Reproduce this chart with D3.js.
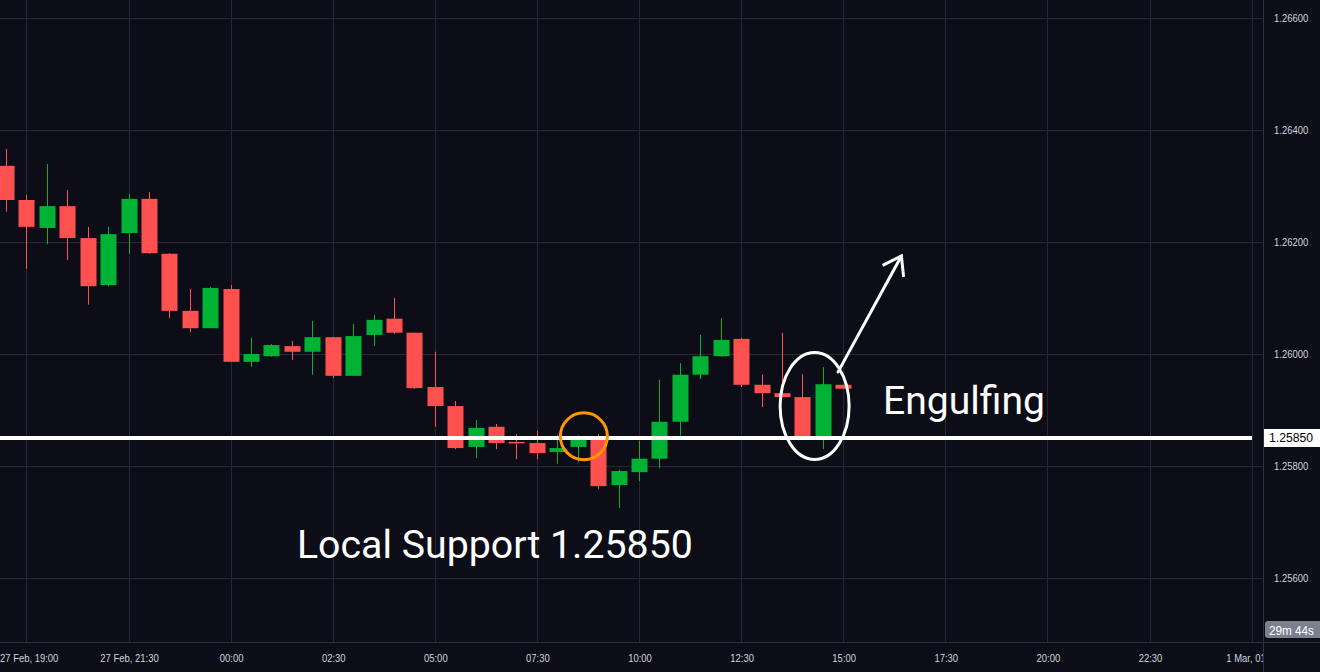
<!DOCTYPE html>
<html>
<head>
<meta charset="utf-8">
<script src="https://cdn.jsdelivr.net/npm/d3@7"></script>
<style>
  html, body { margin: 0; padding: 0; background: #0c0d17; overflow: hidden; }
  svg { display: block; }
</style>
</head>
<body>
<svg id="chart" width="1320" height="672"></svg>
<script>
// ---- Data (30-minute candles) ----
const startTime = "2023-02-27T18:30:00";
const opens  = [1.26336,1.26275,1.26225,1.26264,1.26207,1.26123,1.26216,1.26277,1.26179,1.26077,
                1.26046,1.26116,1.25986,1.25996,1.26014,1.26004,1.26030,1.25961,1.26034,1.26063,
                1.26038,1.25941,1.25907,1.25834,1.25870,1.25843,1.25841,1.25825,1.25834,1.25852,
                1.25766,1.25789,1.25813,1.25879,1.25963,1.25996,1.26027,1.25945,1.25930,1.25923,
                1.25852,1.25945];
const highs  = [1.26366,1.26284,1.26339,1.26293,1.26227,1.26227,1.26286,1.26289,1.26180,1.26116,
                1.26120,1.26123,1.26029,1.26018,1.26023,1.26059,1.26030,1.26054,1.26070,1.26100,
                1.26038,1.26004,1.25916,1.25882,1.25875,1.25857,1.25863,1.25855,1.25855,1.25857,
                1.25793,1.25845,1.25954,1.25984,1.26034,1.26064,1.26029,1.25963,1.26038,1.25964,
                1.25977,1.25945];
const lows   = [1.26254,1.26152,1.26196,1.26168,1.26088,1.26121,1.26179,1.26179,1.26064,1.26039,
                1.26046,1.25986,1.25977,1.25995,1.25989,1.25963,1.25957,1.25961,1.26014,1.26036,
                1.25938,1.25870,1.25830,1.25814,1.25830,1.25812,1.25812,1.25804,1.25807,1.25759,
                1.25725,1.25773,1.25796,1.25854,1.25955,1.25995,1.25941,1.25905,1.25922,1.25848,
                1.25830,1.25938];
const closes = [1.26275,1.26227,1.26264,1.26207,1.26121,1.26214,1.26277,1.26180,1.26077,1.26046,
                1.26118,1.25986,1.26000,1.26016,1.26004,1.26030,1.25961,1.26032,1.26061,1.26038,
                1.25939,1.25907,1.25832,1.25868,1.25841,1.25841,1.25823,1.25832,1.25850,1.25764,
                1.25791,1.25813,1.25879,1.25963,1.25996,1.26025,1.25945,1.25930,1.25923,1.25852,
                1.25946,1.25938];

const priceTicks = [1.256, 1.258, 1.260, 1.262, 1.264, 1.266];
const timeTickTimes  = ["2023-02-27T19:00","2023-02-27T21:30","2023-02-28T00:00","2023-02-28T02:30",
                        "2023-02-28T05:00","2023-02-28T07:30","2023-02-28T10:00","2023-02-28T12:30",
                        "2023-02-28T15:00","2023-02-28T17:30","2023-02-28T20:00","2023-02-28T22:30",
                        "2023-03-01T01:00"];
const timeTickLabels = ["27 Feb, 19:00","27 Feb, 21:30","00:00","02:30","05:00","07:30","10:00",
                        "12:30","15:00","17:30","20:00","22:30","1 Mar, 01:00"];

const supportLevel = 1.25850;
const supportLabel = "1.25850";
const countdownLabel = "29m 44s";
const supportText = "Local Support 1.25850";
const engulfText = "Engulfing";

// Annotation anchors in (candle index, price)
const orangeCircle = { idx: 28.3, price: 1.25853 };
const engulfEllipse = { idx: 39.6, price: 1.25907 };
const arrowFrom = { idx: 40.75, price: 1.25968 };
const arrowTo   = { idx: 43.85, price: 1.26175 };
const engulfPos = { idx: 42.95, price: 1.25892 };
const supportPos = { idx: 14.25, price: 1.25636 };

// ---- Layout ----
const W = 1320, H = 672;
const plotRight = 1263.5, plotBottom = 642.5;
const bg = "#0c0d17", grid = "#262836", border = "#2e3140", textCol = "#d1d4dc";
const upCol = "#00b334", downCol = "#ff5050";
const axisFont = "'Liberation Sans', Arial, sans-serif";
const narrow = 0.86;

const MS = 30 * 60 * 1000;
const t0 = new Date(startTime);
const tAt = i => new Date(t0.getTime() + i * MS);

const x = d3.scaleTime().domain([tAt(0), tAt(61)]).range([6, 1251.6]);
const y = d3.scaleLinear().domain([1.254857, 1.266321]).range([642, 0]);

const candles = opens.map((o, i) => ({ t: tAt(i), o, h: highs[i], l: lows[i], c: closes[i] }));

const svg = d3.select("#chart");
svg.append("rect").attr("width", W).attr("height", H).attr("fill", bg);

const defs = svg.append("defs");
defs.append("clipPath").attr("id", "plotClip")
  .append("rect").attr("x", 0).attr("y", 0).attr("width", plotRight).attr("height", plotBottom);
defs.append("clipPath").attr("id", "timeClip")
  .append("rect").attr("x", 0).attr("y", plotBottom).attr("width", plotRight - 0.5).attr("height", H - plotBottom);

function condense(sel) {
  sel.each(function () {
    const w = this.getComputedTextLength();
    d3.select(this).attr("textLength", w * narrow).attr("lengthAdjust", "spacingAndGlyphs");
  });
}

// Grid
const gridG = svg.append("g").attr("clip-path", "url(#plotClip)");
gridG.selectAll("line.h").data(priceTicks).join("line")
  .attr("x1", 0).attr("x2", plotRight)
  .attr("y1", d => Math.round(y(d)) + 0.5).attr("y2", d => Math.round(y(d)) + 0.5)
  .attr("stroke", grid).attr("stroke-width", 1);
gridG.selectAll("line.v").data(timeTickTimes).join("line")
  .attr("x1", d => Math.round(x(new Date(d))) + 0.5).attr("x2", d => Math.round(x(new Date(d))) + 0.5)
  .attr("y1", 0).attr("y2", plotBottom)
  .attr("stroke", grid).attr("stroke-width", 1);

// Candles
const bw = 16;
const cG = svg.append("g").attr("clip-path", "url(#plotClip)");
const cg = cG.selectAll("g.c").data(candles).join("g");
cg.append("line")
  .attr("x1", d => Math.round(x(d.t)) + 0.5).attr("x2", d => Math.round(x(d.t)) + 0.5)
  .attr("y1", d => y(d.h)).attr("y2", d => y(d.l))
  .attr("stroke", d => d.c >= d.o ? upCol : downCol).attr("stroke-width", 1);
cg.append("rect")
  .attr("x", d => Math.round(x(d.t)) + 0.5 - bw / 2)
  .attr("width", bw)
  .attr("y", d => y(Math.max(d.o, d.c)))
  .attr("height", d => Math.max(1.5, Math.abs(y(d.o) - y(d.c))))
  .attr("fill", d => d.c >= d.o ? upCol : downCol);

// Support line
svg.append("line")
  .attr("x1", 0).attr("x2", 1252)
  .attr("y1", y(supportLevel)).attr("y2", y(supportLevel))
  .attr("stroke", "#ffffff").attr("stroke-width", 4);

// Annotations
const ix = i => x(tAt(i));
svg.append("circle")
  .attr("cx", ix(orangeCircle.idx)).attr("cy", y(orangeCircle.price)).attr("r", 23.5)
  .attr("fill", "none").attr("stroke", "#ff9800").attr("stroke-width", 3);
svg.append("ellipse")
  .attr("cx", ix(engulfEllipse.idx)).attr("cy", y(engulfEllipse.price)).attr("rx", 34.5).attr("ry", 53.5)
  .attr("fill", "none").attr("stroke", "#ffffff").attr("stroke-width", 3);

const ax1 = ix(arrowFrom.idx), ay1 = y(arrowFrom.price), ax2 = ix(arrowTo.idx), ay2 = y(arrowTo.price);
svg.append("line").attr("x1", ax1).attr("y1", ay1).attr("x2", ax2).attr("y2", ay2)
  .attr("stroke", "#fff").attr("stroke-width", 3).attr("stroke-linecap", "round");
const ang = Math.atan2(ay2 - ay1, ax2 - ax1), hl = 21, spread = Math.PI / 5.2;
const head = [
  [ax2 - hl * Math.cos(ang - spread), ay2 - hl * Math.sin(ang - spread)],
  [ax2, ay2],
  [ax2 - hl * Math.cos(ang + spread), ay2 - hl * Math.sin(ang + spread)]
];
svg.append("path").attr("d", d3.line()(head))
  .attr("fill", "none").attr("stroke", "#fff").attr("stroke-width", 3)
  .attr("stroke-linejoin", "miter").attr("stroke-linecap", "butt");

function fitText(sel, targetW) {
  const w = sel.node().getComputedTextLength();
  const fs = parseFloat(sel.attr("font-size"));
  sel.attr("font-size", fs * targetW / w);
}
const t1 = svg.append("text").text(engulfText)
  .attr("x", ix(engulfPos.idx)).attr("y", y(engulfPos.price))
  .attr("font-family", "Roboto, 'Noto Sans', sans-serif").attr("font-size", 36).attr("fill", "#ffffff");
fitText(t1, 162);
const t2 = svg.append("text").text(supportText)
  .attr("x", ix(supportPos.idx)).attr("y", y(supportPos.price))
  .attr("font-family", "Roboto, 'Noto Sans', sans-serif").attr("font-size", 38).attr("fill", "#ffffff");
fitText(t2, 396);

// Axis borders
svg.append("line").attr("x1", plotRight).attr("x2", plotRight).attr("y1", 0).attr("y2", H)
  .attr("stroke", border).attr("stroke-width", 1);
svg.append("line").attr("x1", 0).attr("x2", W).attr("y1", plotBottom).attr("y2", plotBottom)
  .attr("stroke", border).attr("stroke-width", 1);

// Price axis labels
svg.append("g").selectAll("text").data(priceTicks).join("text")
  .attr("x", 1274).attr("y", d => y(d) + 4)
  .attr("font-family", axisFont).attr("font-size", 11)
  .attr("fill", textCol)
  .text(d => d3.format(".5f")(d))
  .call(condense);

// Support price label
const sy = y(supportLevel);
svg.append("rect").attr("x", 1264).attr("y", sy - 9).attr("width", 56).attr("height", 18).attr("fill", "#ffffff");
svg.append("text").attr("x", 1269).attr("y", sy + 4.5)
  .attr("font-family", axisFont).attr("font-size", 12.5)
  .attr("fill", "#000000").text(supportLabel)
  .attr("textLength", 44).attr("lengthAdjust", "spacingAndGlyphs");

// Countdown label
svg.append("path")
  .attr("d", "M1268,621 H1320 V638 H1268 Q1265,638 1265,635 V624 Q1265,621 1268,621 Z")
  .attr("fill", "#7b808f");
svg.append("text").attr("x", 1269).attr("y", 634.5)
  .attr("font-family", axisFont).attr("font-size", 13)
  .attr("fill", "#ffffff").text(countdownLabel)
  .attr("textLength", 45).attr("lengthAdjust", "spacingAndGlyphs");

// Time axis labels
const tl = svg.append("g").attr("clip-path", "url(#timeClip)")
  .selectAll("text").data(timeTickTimes).join("text")
  .attr("y", 662)
  .attr("font-family", axisFont).attr("font-size", 11)
  .attr("fill", textCol)
  .text((d, i) => timeTickLabels[i]);
tl.each(function (d) {
  const w = this.getComputedTextLength() * narrow;
  const cx = x(new Date(d)) + 1;
  const left = Math.max(0, cx - w / 2);
  d3.select(this).attr("x", left).attr("textLength", w).attr("lengthAdjust", "spacingAndGlyphs");
});
</script>
</body>
</html>
